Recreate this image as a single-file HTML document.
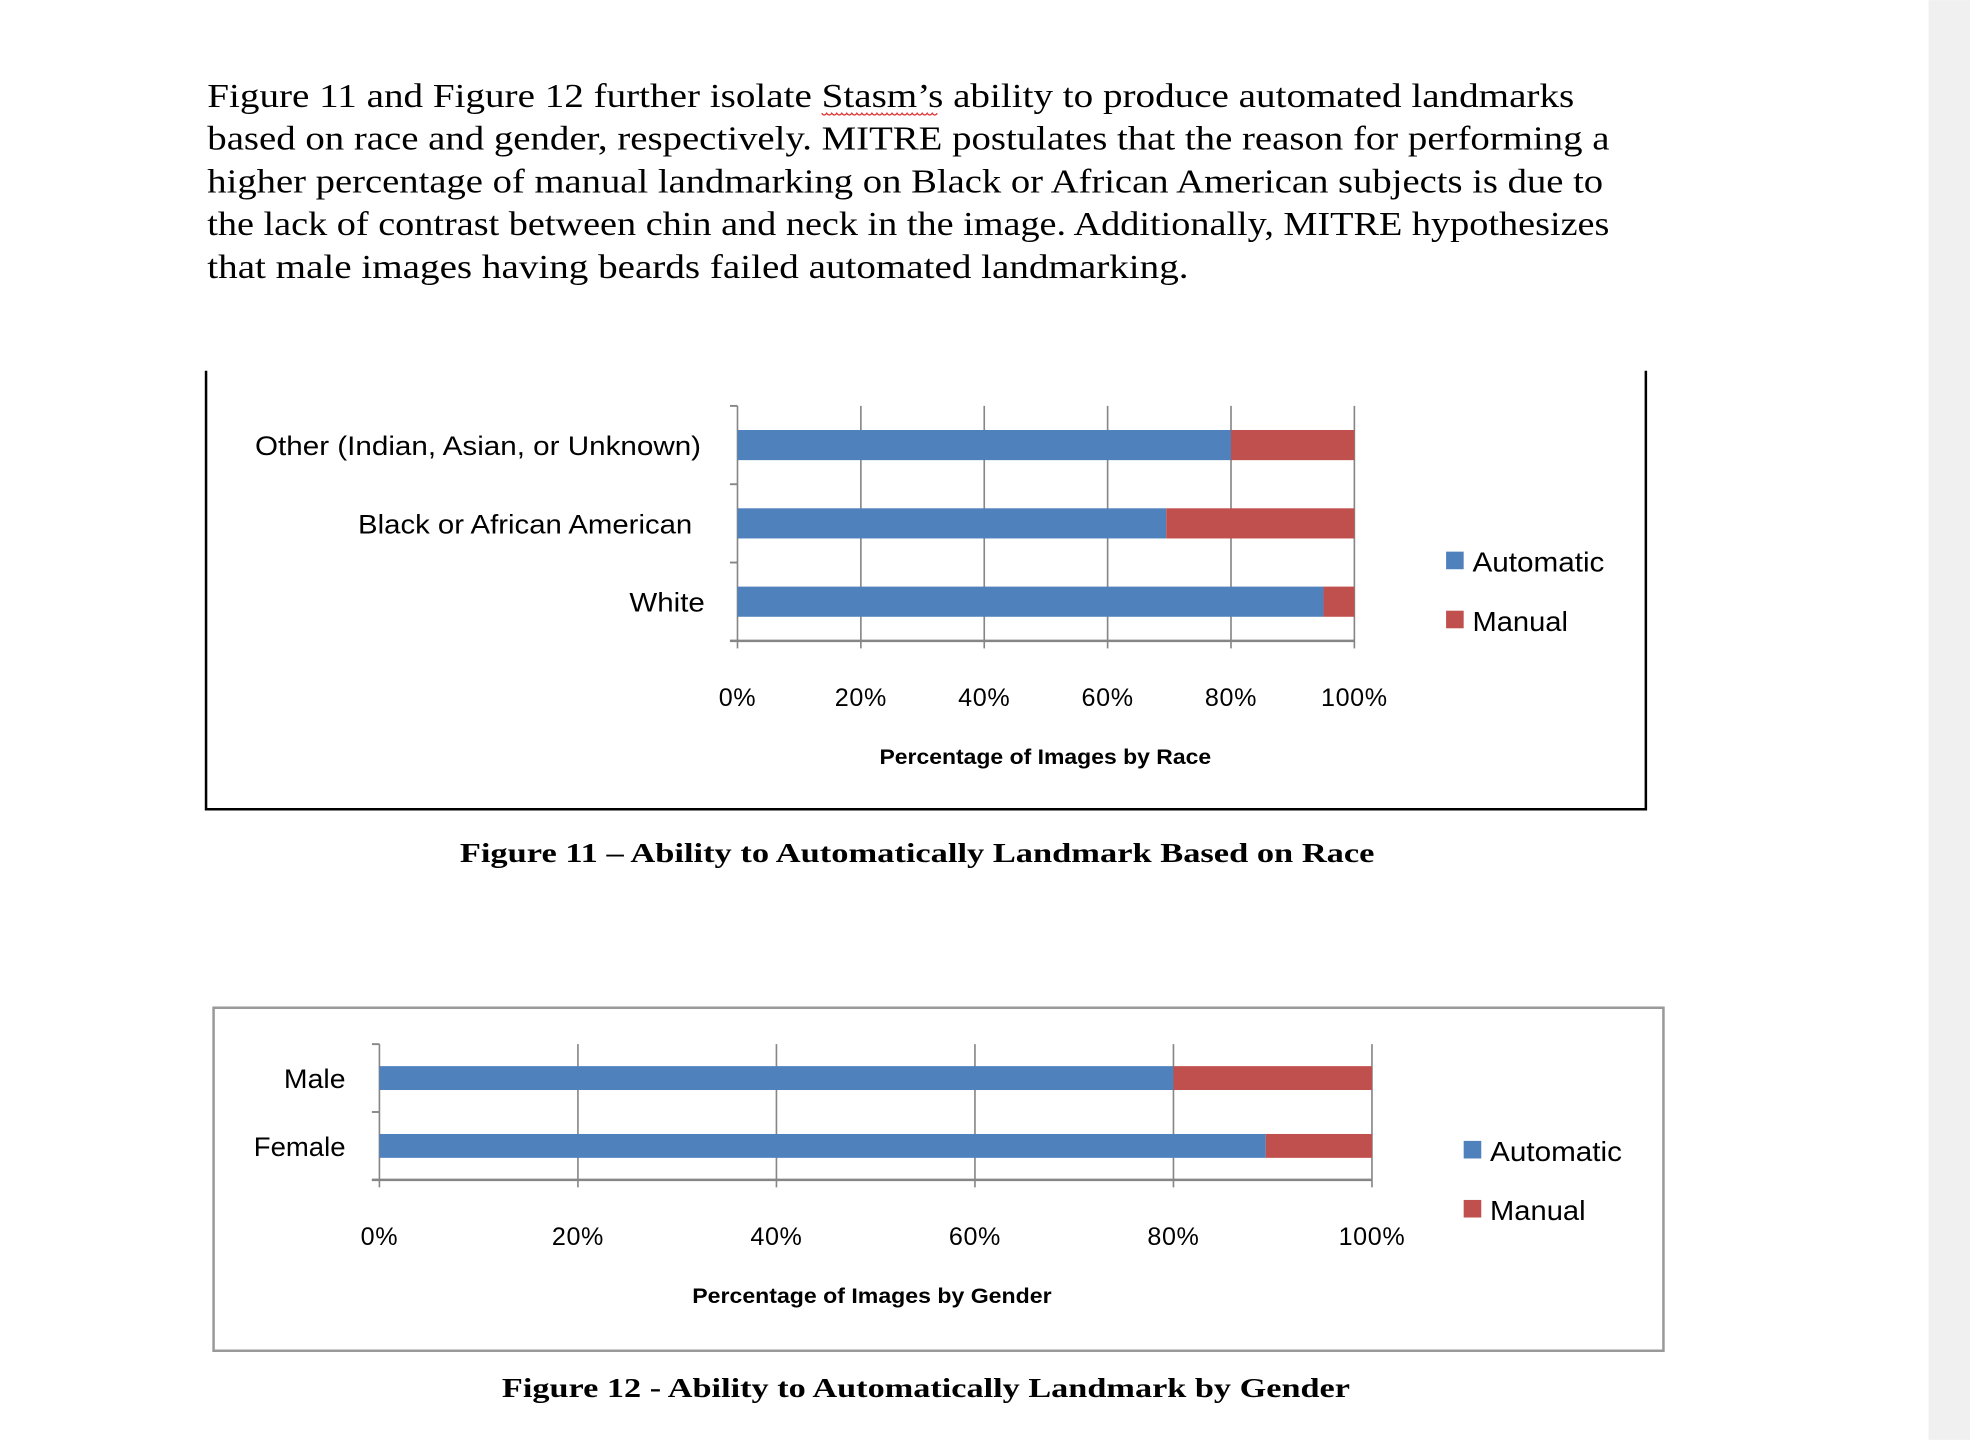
<!DOCTYPE html>
<html><head><meta charset="utf-8"><style>html,body{margin:0;padding:0;background:#fff}svg{display:block}</style></head>
<body>
<svg id="page" width="1970" height="1440" viewBox="0 0 1568 1146" xmlns="http://www.w3.org/2000/svg">
<rect x="0" y="0" width="1568" height="1146" fill="#fff"/>
<rect x="1535" y="0" width="33" height="1146" fill="#f0f0f0"/>
<g font-family="Liberation Serif, serif" font-size="27" fill="#000">
<text x="165" y="85" textLength="1088" lengthAdjust="spacingAndGlyphs">Figure 11 and Figure 12 further isolate Stasm’s ability to produce automated landmarks</text>
<text x="165" y="119" textLength="1116" lengthAdjust="spacingAndGlyphs">based on race and gender, respectively. MITRE postulates that the reason for performing a</text>
<text x="165" y="153" textLength="1111" lengthAdjust="spacingAndGlyphs">higher percentage of manual landmarking on Black or African American subjects is due to</text>
<text x="165" y="187" textLength="1116" lengthAdjust="spacingAndGlyphs">the lack of contrast between chin and neck in the image.  Additionally, MITRE hypothesizes</text>
<text x="165" y="221" textLength="781" lengthAdjust="spacingAndGlyphs">that male images having beards failed automated landmarking.</text>
</g>
<path d="M654 90 q2 3 4 0 q2 3 4 0 q2 3 4 0 q2 3 4 0 q2 3 4 0 q2 3 4 0 q2 3 4 0 q2 3 4 0 q2 3 4 0 q2 3 4 0 q2 3 4 0 q2 3 4 0 q2 3 4 0 q2 3 4 0 q2 3 4 0 q2 3 4 0 q2 3 4 0 q2 3 4 0 q2 3 4 0 q2 3 4 0 q2 3 4 0 q2 3 4 0 q2 3 4 0" stroke="#d33" fill="none" stroke-width="1"/>

<g id="chart1"></g>
<text x="730" y="686" text-anchor="middle" font-family="Liberation Serif, serif" font-weight="bold" font-size="22" textLength="728" lengthAdjust="spacingAndGlyphs">Figure 11 – Ability to Automatically Landmark Based on Race</text>
<g id="chart2"></g>
<text x="737" y="1112" text-anchor="middle" font-family="Liberation Serif, serif" font-weight="bold" font-size="22" textLength="675" lengthAdjust="spacingAndGlyphs">Figure 12 - Ability to Automatically Landmark by Gender</text>
</svg>
<script>
const raceCategories = ["Other (Indian,  Asian,  or Unknown)", "Black or  African  American", "White"];
const raceAutomatic = [80, 69.5, 95];
const raceManual = [20, 30.5, 5];
const genderCategories = ["Male", "Female"];
const genderAutomatic = [80, 89.3];
const genderManual = [20, 10.7];
const tickLabels = ["0%", "20%", "40%", "60%", "80%", "100%"];
const tickValues = [0, 20, 40, 60, 80, 100];
const legendLabels = ["Automatic", "Manual"];

const NS = "http://www.w3.org/2000/svg";
function mk(parent, tag, attrs, text) {
  const e = document.createElementNS(NS, tag);
  for (const k in attrs) e.setAttribute(k, attrs[k]);
  if (text !== undefined) e.textContent = text;
  parent.appendChild(e);
  return e;
}
function fit(t, w) {
  const len = t.getComputedTextLength();
  if (len > 0 && w) { t.setAttribute("textLength", w); t.setAttribute("lengthAdjust", "spacingAndGlyphs"); }
}
function drawChart(g, cfg, cats, auto, man, title) {
  const xs = v => cfg.x0 + (cfg.x1 - cfg.x0) * v / 100;
  const band = (cfg.yb - cfg.yt) / cats.length;
  const ys = i => cfg.yt + band * i;
  const fr = mk(g, "path", cfg.frame);
  
  
  tickValues.forEach((v, i) => {
    const l = mk(g, "line", {x1: xs(v), x2: xs(v), y1: cfg.yt, y2: cfg.yb + 6, stroke: "#868686", "stroke-width": 1.3});
    
    
    const t = mk(g, "text", {x: xs(v), y: cfg.tickY, "text-anchor": "middle", "font-family": "Liberation Sans, sans-serif", "font-size": 20, "letter-spacing": "0.5"}, tickLabels[i]);
    
    
  });
  for (let i = 0; i <= cats.length; i++) {
    const tk = mk(g, "line", {x1: cfg.x0 - 6, x2: cfg.x0, y1: ys(i), y2: ys(i), stroke: "#868686", "stroke-width": 1.5});
    
    
  }
  const ax = mk(g, "line", {x1: cfg.x0 - 6, x2: cfg.x1, y1: cfg.yb, y2: cfg.yb, stroke: "#868686", "stroke-width": 2});
  
  
  cats.forEach((c, i) => {
    const yc = ys(i) + band / 2;
    const b1 = mk(g, "rect", {x: xs(0), y: yc - cfg.bh / 2, width: xs(auto[i]) - xs(0), height: cfg.bh, fill: "#4f81bd"});
    
    
    const b2 = mk(g, "rect", {x: xs(auto[i]), y: yc - cfg.bh / 2, width: xs(auto[i] + man[i]) - xs(auto[i]), height: cfg.bh, fill: "#c0504d"});
    
    
    const t = mk(g, "text", {x: cfg.labelX[i], y: yc + 8, "text-anchor": "end", "font-family": "Liberation Sans, sans-serif", "font-size": 21}, c);
    
    
    fit(t, cfg.labelW[i]);
  });
  const at = mk(g, "text", {x: cfg.titleX, y: cfg.titleY, "text-anchor": "middle", "font-family": "Liberation Sans, sans-serif", "font-size": 17, "font-weight": "bold"}, title);
  
  
  fit(at, cfg.titleW);
  const colors = ["#4f81bd", "#c0504d"];
  const legW = [105, 76];
  legendLabels.forEach((lab, i) => {
    const y = cfg.legY + i * 47;
    const sw = mk(g, "rect", {x: cfg.legX, y: y - 8, width: 14, height: 14, fill: colors[i]});
    
    
    const t = mk(g, "text", {x: cfg.legX + 21, y: y + 8, "font-family": "Liberation Sans, sans-serif", "font-size": 22}, lab);
    
    
    fit(t, legW[i]);
  });
}
drawChart(document.getElementById("chart1"),
  {x0: 587, x1: 1078, yt: 323, yb: 510, bh: 24, labelX: [558, 551, 561], labelW: [355, 266, 60], tickY: 562, titleX: 832, titleY: 608, titleW: 264, legX: 1151, legY: 447,
   frame: {d: "M164 295 V644 H1310 V295", fill: "none", stroke: "#000", "stroke-width": 2}},
  raceCategories, raceAutomatic, raceManual, "Percentage  of Images by Race");
drawChart(document.getElementById("chart2"),
  {x0: 302, x1: 1092, yt: 831, yb: 939, bh: 19, labelX: [275, 275], labelW: [49, 73], tickY: 991, titleX: 694, titleY: 1037, titleW: 286, legX: 1165, legY: 916,
   frame: {d: "M170 802 H1324 V1075 H170 Z", fill: "none", stroke: "#999", "stroke-width": 2}},
  genderCategories, genderAutomatic, genderManual, "Percentage  of Images by Gender");
</script>
</body></html>
